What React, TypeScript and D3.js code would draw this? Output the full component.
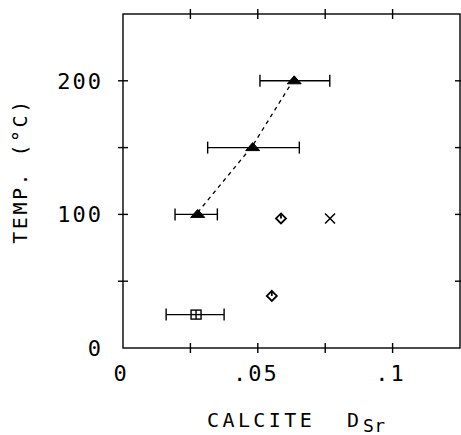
import React from "react";
import * as d3 from "d3";

const triD = [0.0277, 0.0481, 0.0635];
const triT = [100, 150, 200];
const triLo = [0.0193, 0.0314, 0.0508];
const triHi = [0.035, 0.0654, 0.0767];

const sqD = [0.0271];
const sqT = [25];
const sqLo = [0.016];
const sqHi = [0.0375];

const diaD = [0.0586, 0.0552];
const diaT = [97, 39];

const crossD = [0.0768];
const crossT = [97];

const xTicks = [0.025, 0.05, 0.075, 0.1];
const yTicks = [50, 100, 150, 200];
const xLabels = [0, 0.05, 0.1];
const xLabelText = ["0", ".05", ".1"];
const yLabels = [0, 100, 200];
const yLabelText = ["0", "100", "200"];

const W = 461, H = 435;
const L = 123, R = 460, T = 14, B = 348;

export default function App() {
  const x = d3.scaleLinear().domain([0, 0.125]).range([L, R]);
  const y = d3.scaleLinear().domain([0, 250]).range([B, T]);
  const font = "'DejaVu Sans Mono', 'Liberation Mono', monospace";
  const line = d3.line<number>().x((_, i) => x(triD[i])).y((_, i) => y(triT[i]) - 2);
  const sw = 1.4;
  const tk = 5;
  const errBar = (lo: number, hi: number, t: number, key: string) => (
    <g key={key} stroke="#000" strokeWidth={sw}>
      <line x1={x(lo)} x2={x(hi)} y1={y(t)} y2={y(t)} />
      <line x1={x(lo)} x2={x(lo)} y1={y(t) - 6} y2={y(t) + 6} />
      <line x1={x(hi)} x2={x(hi)} y1={y(t) - 6} y2={y(t) + 6} />
    </g>
  );
  return (
    <svg width={W} height={H} style={{ position: "absolute", left: 0, top: 0, background: "#fff" }}>
      <rect x={0} y={0} width={W} height={H} fill="#fff" />
      <rect x={L} y={T} width={R - L} height={B - T} fill="none" stroke="#000" strokeWidth={sw} />
      <g stroke="#000" strokeWidth={sw}>
        {xTicks.map((v) => (
          <g key={"xt" + v}>
            <line x1={x(v)} x2={x(v)} y1={B - tk} y2={B + tk} />
            <line x1={x(v)} x2={x(v)} y1={T - tk} y2={T + tk} />
          </g>
        ))}
        {yTicks.map((v) => (
          <g key={"yt" + v}>
            <line x1={L - tk} x2={L + tk} y1={y(v)} y2={y(v)} />
            <line x1={R - tk} x2={R + tk} y1={y(v)} y2={y(v)} />
          </g>
        ))}
      </g>
      <g fontFamily={font} fontSize={22} fill="#000">
        {yLabels.map((v, i) => (
          <text key={"yl" + v} x={103} y={y(v) + 8} textAnchor="end" letterSpacing={2}>
            {yLabelText[i]}
          </text>
        ))}
        {xLabels.map((v, i) => (
          <text key={"xl" + v} x={x(v) - 2} y={381} textAnchor="middle" letterSpacing={2}>
            {xLabelText[i]}
          </text>
        ))}
      </g>
      <text
        fontFamily={font}
        fontSize={20}
        letterSpacing={2.5}
        transform={`translate(27,${171}) rotate(-90)`}
        textAnchor="middle"
      >
        TEMP. (°C)
      </text>
      <text fontFamily={font} fontSize={20} letterSpacing={3.4} x={207} y={427}>
        CALCITE
        <tspan x={347}>D</tspan>
        <tspan x={363} dy={5} fontSize={18} letterSpacing={0.5}>Sr</tspan>
      </text>
      <path d={line(triT) || ""} fill="none" stroke="#000" strokeWidth={1.3} strokeDasharray="4,4" />
      {triD.map((d, i) => errBar(triLo[i], triHi[i], triT[i], "te" + i))}
      {sqD.map((d, i) => errBar(sqLo[i], sqHi[i], sqT[i], "se" + i))}
      {triD.map((d, i) => {
        const cx = x(d), cy = y(triT[i]);
        return (
          <path key={"tr" + i} d={`M${cx - 7},${cy + 3}L${cx + 7},${cy + 3}L${cx},${cy - 5}Z`} fill="#000" stroke="#000" strokeWidth={1} />
        );
      })}
      {sqD.map((d, i) => {
        const cx = x(d), cy = y(sqT[i]);
        return (
          <g key={"sq" + i} stroke="#000" strokeWidth={sw} fill="#fff">
            <rect x={cx - 5} y={cy - 4.5} width={10} height={9} />
            <line x1={cx} x2={cx} y1={cy - 4.5} y2={cy + 4.5} />
            <line x1={cx - 5} x2={cx + 5} y1={cy} y2={cy} />
          </g>
        );
      })}
      {diaD.map((d, i) => {
        const cx = x(d), cy = y(diaT[i]);
        return (
          <g key={"di" + i} stroke="#000" strokeWidth={1.8} fill="none">
            <path d={`M${cx},${cy - 5}L${cx + 5},${cy}L${cx},${cy + 5}L${cx - 5},${cy}Z`} />
            <line x1={cx} x2={cx} y1={cy - 5} y2={cy} />
          </g>
        );
      })}
      {crossD.map((d, i) => {
        const cx = x(d), cy = y(crossT[i]);
        return (
          <g key={"cr" + i} stroke="#000" strokeWidth={1.5}>
            <line x1={cx - 5} x2={cx + 5} y1={cy - 5} y2={cy + 5} />
            <line x1={cx - 5} x2={cx + 5} y1={cy + 5} y2={cy - 5} />
          </g>
        );
      })}
    </svg>
  );
}
